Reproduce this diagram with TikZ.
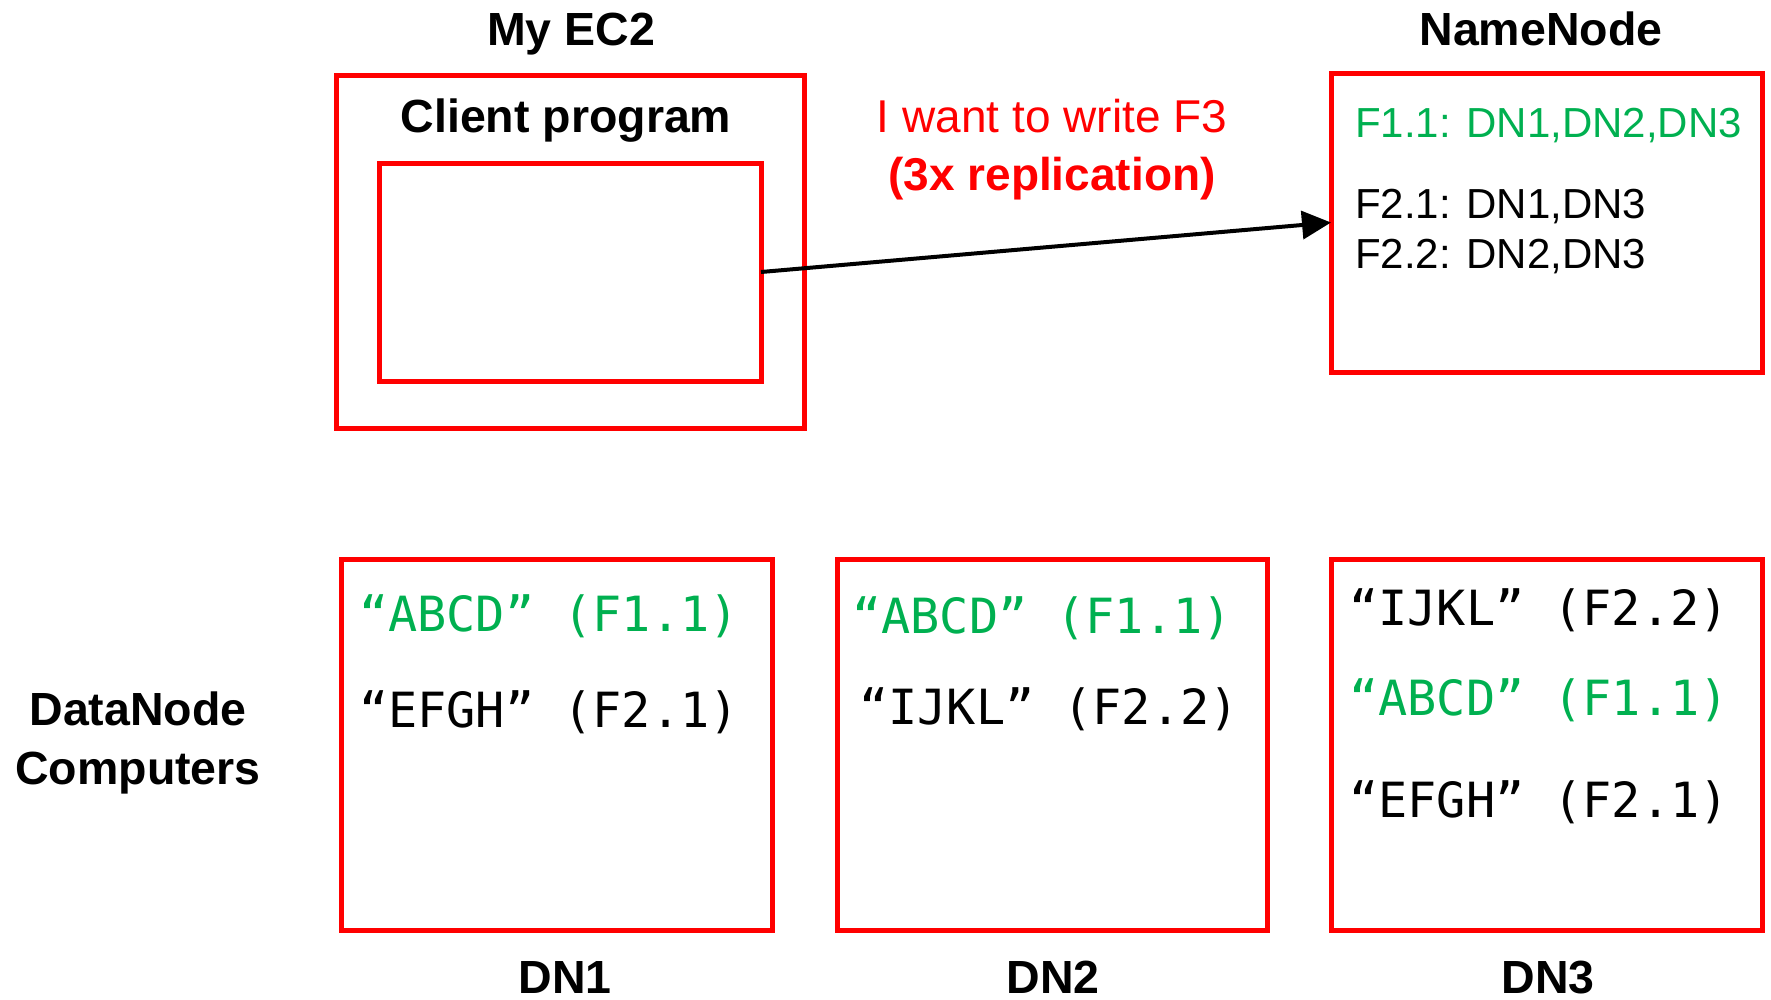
\documentclass[tikz,border=0pt]{standalone}
\usepackage{fontspec}
\setmainfont{Liberation Sans}
\newfontfamily\monofont{DejaVu Sans Mono}
\usetikzlibrary{arrows.meta}
\definecolor{boxred}{RGB}{255,0,0}
\definecolor{okgreen}{RGB}{0,176,80}
\tikzset{
  redbox/.style={draw=boxred, line width=5pt, inner sep=0pt, outer sep=0pt},
  title/.style={font=\fontsize{46.5}{50}\selectfont\bfseries, anchor=base, inner sep=0pt},
  entry/.style={font=\fontsize{42}{48}\selectfont, anchor=base west, inner sep=0pt},
  block/.style={font=\monofont\fontsize{48.5}{54}\selectfont, anchor=base west, inner sep=0pt},
  msg/.style={font=\fontsize{46}{52}\selectfont, text=boxred, anchor=base, inner sep=0pt}
}
\begin{document}
\begin{tikzpicture}[x=1pt, y=-1pt]
\useasboundingbox (0,0) rectangle (1771,999);

% client machine
\node[redbox, minimum width=468pt, minimum height=353pt] (ec2) at (570,251.5) {};
\node[redbox, minimum width=382pt, minimum height=218pt] (client) at (570,272) {};
\node[title] (ec2lbl) at (571,45) {My EC2};
\node[title] (clientlbl) at (566,132) {Client program};

% name node
\node[redbox, minimum width=431pt, minimum height=299pt] (nn) at (1546.5,222.5) {};
\node[title] (nnlbl) at (1541,45) {NameNode};
\node[entry, text=okgreen] (nn1) at (1355,137) {F1.1: DN1,DN2,DN3};
\node[entry] (nn2) at (1355,218) {F2.1: DN1,DN3};
\node[entry] (nn3) at (1355,268) {F2.2: DN2,DN3};

% request
\node[msg] (req1) at (1052,132) {I want to write F3};
\node[msg, font=\fontsize{46}{52}\selectfont\bfseries] (req2) at (1052,190) {(3x replication)};
\draw[line width=4pt, -{Triangle[length=29pt, width=28pt]}] (client.east) -- (nn.west);

% data nodes
\node[title, align=center] (dnlbl1) at (138,725) {DataNode};
\node[title, align=center] (dnlbl2) at (138,784) {Computers};

\node[redbox, minimum width=431pt, minimum height=371pt] (dn1) at (556.5,744.5) {};
\node[redbox, minimum width=430pt, minimum height=371pt] (dn2) at (1052,744.5) {};
\node[redbox, minimum width=431pt, minimum height=371pt] (dn3) at (1546.5,744.5) {};

\node[title] (dn1lbl) at (565,993) {DN1};
\node[title] (dn2lbl) at (1053,993) {DN2};
\node[title] (dn3lbl) at (1548,993) {DN3};

\node[block, text=okgreen] (b11) at (359,631) {“ABCD” (F1.1)};
\node[block] (b12) at (359,727) {“EFGH” (F2.1)};

\node[block, text=okgreen] (b21) at (852,633) {“ABCD” (F1.1)};
\node[block] (b22) at (859,724) {“IJKL” (F2.2)};

\node[block] (b31) at (1349,625) {“IJKL” (F2.2)};
\node[block, text=okgreen] (b32) at (1349,715) {“ABCD” (F1.1)};
\node[block] (b33) at (1349,817) {“EFGH” (F2.1)};
\end{tikzpicture}
\end{document}
